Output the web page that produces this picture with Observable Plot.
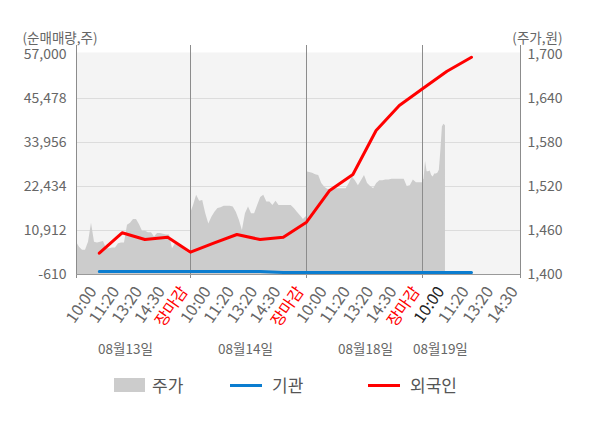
<!DOCTYPE html>
<html><head><meta charset="utf-8">
<script src="https://cdn.jsdelivr.net/npm/d3@7"></script>
<script src="https://cdn.jsdelivr.net/npm/@observablehq/plot@0.6"></script>
<style>
body{margin:0;background:#fff;font-family:"Noto Sans CJK KR","Noto Sans",sans-serif;}
#wrap{position:relative;width:600px;height:428px;overflow:hidden;background:#fff}
#chart{position:absolute;left:0;top:0}
.lg{position:absolute;font-size:17px;color:#555;line-height:24px;top:373px;white-space:nowrap}
.sw{position:absolute}
</style></head><body>
<div id="wrap"><div id="chart"></div>
<div class="sw" style="left:114px;top:378px;width:31px;height:14px;background:#cccccc"></div>
<div class="lg" style="left:152px">주가</div>
<div class="sw" style="left:230px;top:384px;width:32px;height:3px;background:#0b7dd0"></div>
<div class="lg" style="left:272px">기관</div>
<div class="sw" style="left:368px;top:384px;width:32px;height:3px;background:#ff0000"></div>
<div class="lg" style="left:410px">외국인</div>
</div>
<script>
// ---- data ----
const dayLabels = ["08월13일", "08월14일", "08월18일", "08월19일"];
const dayLabelSlots = [2.15, 7.37, 12.54, 15.73];
const tickSlots = [1,2,3,4,5,6,7,8,9,10,11,12,13,14,15,16,17,18,19];
const tickLabels = ["10:00","11:20","13:20","14:30","장마감",
                    "10:00","11:20","13:20","14:30","장마감",
                    "10:00","11:20","13:20","14:30","장마감",
                    "10:00","11:20","13:20","14:30"];
// price (원), evenly sampled through each trading day
const price0813 = [1444,1437,1433,1433,1444,1470,1444,1443,1444,1445,1435,1435,1436,1436,1442,1443,1443,1467,1470,1475,1475,1468,1459,1459,1457,1457,1451,1456,1456,1455,1454,1454,1435,1442,1440,1437,1433,1430,1427];
const price0814 = [1483,1494,1508,1500,1501,1483,1469,1478,1485,1490,1491,1493,1493,1493,1492,1485,1474,1460,1483,1492,1483,1483,1494,1505,1508,1499,1499,1494,1500,1494,1494,1494,1494,1494,1490,1485,1480,1475,1479];
const price0818 = [1540,1539,1538,1536,1535,1524,1519,1516,1516,1517,1517,1517,1517,1517,1524,1533,1528,1521,1528,1535,1524,1520,1517,1524,1528,1528,1529,1529,1530,1530,1530,1530,1530,1520,1521,1529,1525,1525,1525];
const price0819 = [1529,1530,1554,1540,1540,1541,1535,1533,1537,1537,1538,1542,1569,1601,1605,1603];
// net buying volume (주)
const flowSlots = [1,2,3,4,5,6,7,8,9,10,11,12,13,14,15,16,17];
const foreign = [4970,10310,8560,9160,5230,7590,9860,8560,9160,13090,21390,25580,37100,43640,48020,52630,56290];
const institution = [170,170,170,170,170,170,170,170,-90,-90,-90,-90,-90,-90,-90,-90,-90];
const leftTicks = [-610, 10912, 22434, 33956, 45478, 57000];
const rightTicks = [1400, 1460, 1520, 1580, 1640, 1700];

// ---- build ----
const L0 = -610, L1 = 57000, R0 = 1400, R1 = 1700;
const toLeft = p => L0 + (p - R0) / (R1 - R0) * (L1 - L0);
const fromLeft = v => R0 + (v - L0) / (L1 - L0) * (R1 - R0);
const fmt = n => Math.round(n).toLocaleString("en-US");

const priceRows = [];
[price0813, price0814, price0818].forEach((arr, d) => {
  arr.forEach((p, k) => priceRows.push({slot: d * 5 + k * 5 / (arr.length - 1), price: p}));
});
price0819.forEach((p, k) => priceRows.push({slot: 15 + k / 16, price: p}));

const foreignRows = flowSlots.map((s, i) => ({slot: s, v: foreign[i]}));
const instRows = flowSlots.map((s, i) => ({slot: s, v: institution[i]}));
const tickRows = tickSlots.map((s, i) => ({slot: s, label: tickLabels[i], i}));
const dayRows = dayLabelSlots.map((s, i) => ({slot: s, label: dayLabels[i]}));

const FONT = "'Noto Sans CJK KR', 'Noto Sans', sans-serif";
const tickOpts = {x: "slot", text: "label", frameAnchor: "bottom", rotate: -55, textAnchor: "end", dx: -2, dy: 17, fontSize: 16};

const chart = Plot.plot({
  width: 600,
  height: 370,
  marginLeft: 76,
  marginRight: 80,
  marginTop: 52,
  marginBottom: 96,
  style: {fontFamily: FONT, fontSize: "14px", background: "#fff", overflow: "visible"},
  x: {type: "linear", domain: [0, 5, 10, 15, 19], range: [76, 190, 306, 422, 520], axis: null},
  y: {domain: [L0, L1], range: [274, 54], axis: null},
  marks: [
    Plot.frame({fill: "#f4f4f4", stroke: null}),
    Plot.ruleY([10912, 22434, 33956, 45478], {stroke: "#dcdcdc"}),
    Plot.areaY(priceRows, {x: "slot", y1: L0, y2: d => toLeft(d.price), fill: "#cccccc"}),
    Plot.ruleX([0, 5, 10, 15, 19], {stroke: "#8c8c8c", insetTop: -7, insetBottom: -4}),
    Plot.ruleY([L0], {stroke: "#999"}),
    Plot.line(instRows, {x: "slot", y: "v", stroke: "#0b7dd0", strokeWidth: 3}),
    Plot.line(foreignRows, {x: "slot", y: "v", stroke: "#ff0000", strokeWidth: 3}),
    Plot.axisY(leftTicks, {anchor: "left", tickSize: 0, tickPadding: 10, tickFormat: fmt, fill: "#666", fontSize: 14, label: null}),
    Plot.axisY(rightTicks.map(toLeft), {anchor: "right", tickSize: 0, tickPadding: 7, tickFormat: v => fmt(fromLeft(v)), fill: "#666", fontSize: 14, label: null}),
    Plot.text(tickRows, {...tickOpts, filter: d => d.label !== "장마감" && d.i !== 15, fill: "#666"}),
    Plot.text(tickRows, {...tickOpts, filter: d => d.label === "장마감", fill: "#ff0000"}),
    Plot.text(tickRows, {...tickOpts, filter: d => d.i === 15, fill: "#222"}),
    Plot.text(dayRows, {x: "slot", text: "label", frameAnchor: "bottom", dy: 79, fill: "#666", fontSize: 13.5}),
    Plot.text(["(순매매량,주)"], {text: d => d, frameAnchor: "top-left", textAnchor: "start", dx: -54, dy: -19, fill: "#666", fontSize: 13.5}),
    Plot.text(["(주가,원)"], {text: d => d, frameAnchor: "top-right", textAnchor: "end", dx: 42, dy: -19, fill: "#666", fontSize: 13.5})
  ]
});
document.getElementById("chart").appendChild(chart);
</script>
</body></html>
